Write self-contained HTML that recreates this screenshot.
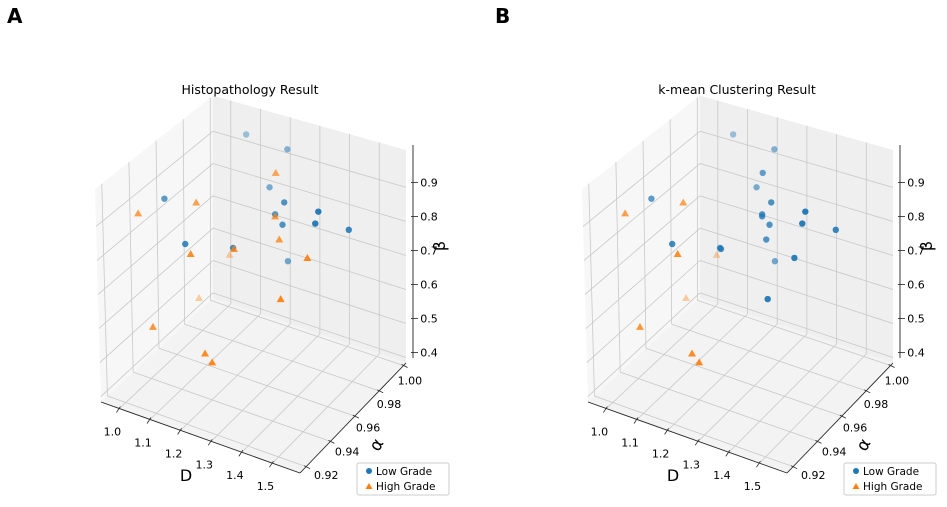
<!DOCTYPE html>
<html><head><meta charset="utf-8"><style>
html,body{margin:0;padding:0;background:#fff;}
svg{display:block;font-family:"DejaVu Sans","Liberation Sans",sans-serif;}
</style></head><body>
<svg id="fig" width="947" height="507" viewBox="0 0 947 507">
<text x="7" y="23" font-size="20" font-weight="bold">A</text>
<text x="495" y="23" font-size="20" font-weight="bold">B</text>
</svg>
<script>
// ---- data ----
const dValues     = [1.127,1.264,1.243,1.088,1.363,1.511,1.333,1.357,1.501,1.542,1.187,1.270,1.303,
                     1.302,1.037,1.152,1.333,1.346,1.204,1.070,1.273,1.475,1.006,1.424,1.099,1.246,1.269];
const alphaValues = [0.985,0.985,0.976,0.932,0.959,0.950,0.959,0.959,0.950,0.967,0.924,0.941,0.976,
                     0.967,0.924,0.941,0.959,0.959,0.924,0.985,0.941,0.950,0.976,0.941,0.919,0.924,0.924];
const betaValues  = [0.998,0.990,0.902,0.973,0.951,0.999,0.907,0.883,0.961,0.892,0.897,0.852,0.698,
                     0.993,0.940,0.951,0.901,0.836,0.873,0.617,0.850,0.852,0.499,0.748,0.642,0.593,0.574];
// 0 = Low Grade, 1 = High Grade
const histoLabels  = [0,0,0,0,0,0,0,0,0,0,0,0,0, 1,1,1,1,1,1,1,1,1,1,1,1,1,1];
const kmeansLabels = [0,0,0,0,0,0,0,0,0,0,0,0,0, 0,1,1,0,0,1,1,0,0,1,0,1,1,1];
const dTicks = [1.0,1.1,1.2,1.3,1.4,1.5];
const alphaTicks = [0.92,0.94,0.96,0.98,1.00];
const betaTicks = [0.4,0.5,0.6,0.7,0.8,0.9];
const dRange=[0.94,1.59], aRange=[0.915,1.002], bRange=[0.384,1.01];

const NS="http://www.w3.org/2000/svg";
const fig=document.getElementById('fig');
function mk(tag,attrs,parent){const e=document.createElementNS(NS,tag);for(const k in attrs)e.setAttribute(k,attrs[k]);parent.appendChild(e);return e;}

function drawPanel(ox, labels, title, key){
  const g=mk('g',{},fig);
  
  
  const fd=D=>(D-dRange[0])/(dRange[1]-dRange[0]);
  const fa=a=>(a-aRange[0])/(aRange[1]-aRange[0]);
  const fb=b=>(b-bRange[0])/(bRange[1]-bRange[0]);
  function P(D,a,b){
    const dD=fd(D),dA=fa(a),dB=fb(b);const k=dA*(1-dD);
    return [ox+101+199*dD+106*dA+6*k-6*dB*(1-dA)*(1-dD), 402+71*dD-110*dA+6*k-213*(1-0.05*k)*dB];
  }
  const [D0,D1]=dRange,[A0,A1]=aRange,[B0,B1]=bRange;
  const poly=(pts,fill,name)=>{const e=mk('polygon',{points:pts.map(p=>p.join(',')).join(' '),fill:fill,stroke:'none'},g);
    
    };
  poly([P(D0,A0,B0),P(D0,A1,B0),P(D0,A1,B1),P(D0,A0,B1)],'#f7f7f7','left-pane');
  poly([P(D0,A1,B0),P(D1,A1,B0),P(D1,A1,B1),P(D0,A1,B1)],'#efefef','back-pane');
  poly([P(D0,A0,B0),P(D1,A0,B0),P(D1,A1,B0),P(D0,A1,B0)],'#f3f3f3','floor-pane');
  const line=(p,q,stroke,w,name)=>{const e=mk('line',{x1:p[0],y1:p[1],x2:q[0],y2:q[1],stroke:stroke,'stroke-width':w},g);
    
    return e;};
  const gc='#c8c8c8';
  alphaTicks.forEach(a=>{line(P(D0,a,B0),P(D0,a,B1),gc,0.8,'grid-line');line(P(D0,a,B0),P(D1,a,B0),gc,0.8,'grid-line');});
  betaTicks.forEach(b=>{line(P(D0,A0,b),P(D0,A1,b),gc,0.8,'grid-line');line(P(D0,A1,b),P(D1,A1,b),gc,0.8,'grid-line');});
  dTicks.forEach(D=>{line(P(D,A1,B0),P(D,A1,B1),gc,0.8,'grid-line');line(P(D,A0,B0),P(D,A1,B0),gc,0.8,'grid-line');});
  // axes
  line(P(D0,A0,B0),P(D1,A0,B0),'#222',0.9,'d-axis-line');
  line(P(D1,A0,B0),P(D1,A1,B0),'#222',0.9,'alpha-axis-line');
  const rc=P(D1,A1,B0); const bx=rc[0]+7;
  const by=b=>358-fb(b)*213;
  line([bx,by(B0)],[bx,by(B1)],'#222',0.9,'beta-axis-line');
  const txt=(x,y,s,size,name,anchor,extra)=>{const e=mk('text',Object.assign({x:x,y:y,'font-size':size,'text-anchor':anchor||'middle',fill:'#000'},extra||{}),g);e.textContent=s;
    
    return e;};
  dTicks.forEach(D=>{const p=P(D,A0,B0);line([p[0]+1,p[1]-2],[p[0]-3,p[1]+4],'#222',0.8,'d-tick');
    txt(p[0]-7,p[1]+27,D.toFixed(1),11,'d-tick-label');});
  alphaTicks.forEach(a=>{const p=P(D1,a,B0);const t=fa(a);line([p[0]-2,p[1]-1],[p[0]+4,p[1]+2],'#222',0.8,'alpha-tick');
    txt(p[0]+21-15*t,p[1]+12+7*t,a.toFixed(2),11,'alpha-tick-label');});
  betaTicks.forEach(b=>{const y=by(b);line([bx-2,y],[bx+5,y],'#222',0.8,'beta-tick');
    txt(bx+16,y+4,b.toFixed(1),11,'beta-tick-label');});
  txt(ox+186,481,'D',16,'d-axis-title');
  txt(ox+377,450,'α',17,'alpha-axis-title','middle',{transform:`rotate(-60 ${ox+377} 445)`});
  txt(ox+449,250,'β',16,'beta-axis-title','middle',{transform:`rotate(-90 ${ox+445} 250)`});
  txt(ox+250,94,title,12.5,'chart-title');
  // points (far ones first)
  const idx=dValues.map((_,i)=>i).sort((i,j)=>{const s=k=>fa(alphaValues[k])+1-fd(dValues[k]);return s(j)-s(i);});
  idx.forEach(i=>{
    const p=P(dValues[i],alphaValues[i],betaValues[i]);
    const s=fa(alphaValues[i])+1-fd(dValues[i]);
    const op=Math.max(0.3,Math.min(1,1.25-0.55*s));
    let e;
    if(labels[i]===0){
      e=mk('circle',{cx:p[0],cy:p[1],r:3.2,fill:'#1f77b4','fill-opacity':op},g);
      
    } else {
      e=mk('path',{d:`M${p[0]},${p[1]-4}L${p[0]+4},${p[1]+3}L${p[0]-4},${p[1]+3}Z`,fill:'#ff7f0e','fill-opacity':op},g);
      
    }
    
  });
  // legend
  const lg=mk('g',{},g);
  
  
  mk('rect',{x:ox+357,y:463,width:92,height:32,rx:2,fill:'#fff','fill-opacity':0.85,stroke:'#ccc','stroke-width':1},lg);
  const c=mk('circle',{cx:ox+369,cy:471,r:3,fill:'#1f77b4'},lg);
  
  
  const t=mk('path',{d:`M${ox+369},${483}L${ox+372.5},${489}L${ox+365.5},${489}Z`,fill:'#ff7f0e'},lg);
  
  
  const l1=mk('text',{x:ox+376,y:475,'font-size':10.5},lg);l1.textContent='Low Grade';
  
  
  const l2=mk('text',{x:ox+376,y:490,'font-size':10.5},lg);l2.textContent='High Grade';
  
  
}
drawPanel(0, histoLabels, 'Histopathology Result', 'histopathology');
drawPanel(487, kmeansLabels, 'k-mean Clustering Result', 'kmeans');
</script>
</body></html>
